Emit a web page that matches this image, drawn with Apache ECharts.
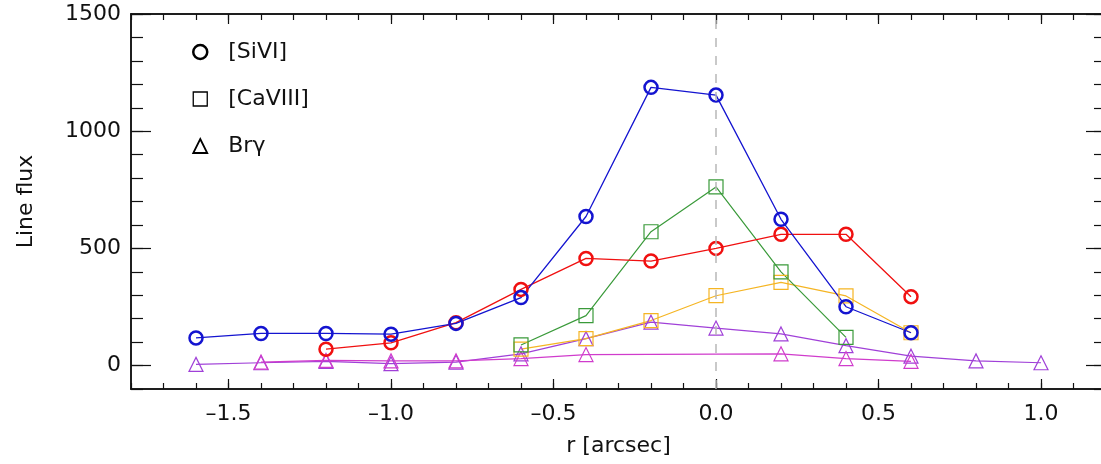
<!DOCTYPE html>
<html><head><meta charset="utf-8">
<script src="https://cdn.jsdelivr.net/npm/echarts@6/dist/echarts.min.js"></script>
<style>html,body{margin:0;padding:0;background:#fff;overflow:hidden;width:1101px;height:464px}#c{width:1110px;height:464px}</style>
</head><body><div id="c"></div>
<script>
// radius positions (arcsec)
const rValues = [-1.6, -1.4, -1.2, -1.0, -0.8, -0.6, -0.4, -0.2, 0.0, 0.2, 0.4, 0.6, 0.8, 1.0];
// [SiVI] (circles)
const siviBlue = [118, 137, 137, 134, 180, 290, 636, 1187, 1154, 624, 251, 140, null, null];
const siviRed  = [null, null, 70, 97, 183, 325, 457, 446, 500, 560, 560, 294, null, null];
// [CaVIII] (squares)
const caviiiGreen  = [null, null, null, null, null, 88, 213, 571, 762, 400, 120, null, null, null];
const caviiiOrange = [null, null, null, null, null, 70, 115, 192, 298, 355, 297, 140, null, null];
// Br gamma (triangles)
const brgViolet  = [5, 12, 18, 8, 15, 50, 115, 185, 160, 135, 85, 40, 20, 12];
const brgMagenta = [null, 15, 22, 20, 20, 30, 47, null, null, 50, 30, 18, null, null];
// tick labels
const xTicks = [-1.5, -1.0, -0.5, 0.0, 0.5, 1.0];
const yTicks = [0, 500, 1000, 1500];
const legendNames = ['[SiVI]', '[CaVIII]', 'Br\u03b3'];

const FONT = 'DejaVu Sans';
const INK = '#111';
function pairs(vals) {
  const out = [];
  vals.forEach((v, i) => { if (v !== null) out.push([rValues[i], v]); });
  return out;
}
function fmtX(v) { return (v < -1e-9 ? '\u2013' : '') + Math.abs(v).toFixed(1); }
function fmtY(v) { return String(Math.round(v)); }

const chart = echarts.init(document.getElementById('c'));

function xAx(pos, major, withLabel) {
  const a = {
    type: 'value', position: pos, min: -1.8, max: 1.2,
    axisLine: { show: true, onZero: false, lineStyle: { color: INK, width: 1.5 } },
    splitLine: { show: false },
    axisTick: { show: true, inside: true, length: major ? 10 : 6, lineStyle: { color: INK, width: 1.2 } },
    axisLabel: { show: false }
  };
  if (major) {
    a.axisTick.customValues = xTicks;
    a.axisLabel = { show: withLabel, customValues: xTicks, formatter: fmtX, fontFamily: FONT, fontSize: 22, color: INK, margin: 14 };
  } else {
    a.interval = 0.1;
  }
  if (withLabel) {
    a.name = 'r [arcsec]'; a.nameLocation = 'middle'; a.nameGap = 46;
    a.nameTextStyle = { fontFamily: FONT, fontSize: 22, color: INK };
  }
  return a;
}
function yAx(pos, major, withLabel) {
  const a = {
    type: 'value', position: pos, min: -100, max: 1500,
    axisLine: { show: true, onZero: false, lineStyle: { color: INK, width: 1.5 } },
    splitLine: { show: false },
    axisTick: { show: true, inside: true, length: major ? 20 : 12, lineStyle: { color: INK, width: 1.2 } },
    axisLabel: { show: false }
  };
  if (major) {
    a.axisTick.customValues = yTicks;
    a.axisLabel = { show: withLabel, customValues: yTicks, formatter: fmtY, fontFamily: FONT, fontSize: 22, color: INK, margin: 10 };
  } else {
    a.interval = 100;
  }
  if (withLabel) {
    a.name = 'Line flux'; a.nameLocation = 'middle'; a.nameGap = 94;
    a.nameTextStyle = { fontFamily: FONT, fontSize: 22, color: INK };
  }
  return a;
}

function ser(name, vals, color, symbol, size, bw, lw, extra) {
  return Object.assign({
    name: name, type: 'line', xAxisIndex: 1, yAxisIndex: 1,
    data: pairs(vals), connectNulls: true,
    symbol: symbol, symbolSize: size, showAllSymbol: true,
    lineStyle: { color: color, width: lw },
    itemStyle: { color: 'rgba(0,0,0,0)', borderColor: color, borderWidth: bw },
    emphasis: { disabled: true }, animation: false, z: 3
  }, extra || {});
}

const option = {
  animation: false,
  grid: { left: 131, top: 14, right: 4, bottom: 75, containLabel: false },
  xAxis: [xAx('bottom', false, false), xAx('bottom', true, true), xAx('top', false, false), xAx('top', true, false)],
  yAxis: [yAx('left', false, false), yAx('left', true, true), yAx('right', false, false), yAx('right', true, false)],
  legend: {
    orient: 'vertical', left: 187, top: 36, itemWidth: 14, itemHeight: 14, itemGap: 25,
    selectedMode: false,
    textStyle: { fontFamily: FONT, fontSize: 22, color: INK, padding: [0, 0, 0, 16] },
    data: [
      { name: legendNames[0], icon: 'circle', itemStyle: { color: 'rgba(0,0,0,0)', borderColor: '#000', borderWidth: 2.5 } },
      { name: legendNames[1], icon: 'rect', itemStyle: { color: 'rgba(0,0,0,0)', borderColor: '#000', borderWidth: 1.3 } },
      { name: legendNames[2], icon: 'triangle', itemStyle: { color: 'rgba(0,0,0,0)', borderColor: '#000', borderWidth: 1.8 } }
    ]
  },
  series: [
    { name: legendNames[0], type: 'line', data: [], symbol: 'circle', itemStyle: { color: '#000' } },
    { name: legendNames[1], type: 'line', data: [], symbol: 'rect', itemStyle: { color: '#000' } },
    { name: legendNames[2], type: 'line', data: [], symbol: 'triangle', itemStyle: { color: '#000' } },
    ser('brg-violet', brgViolet, '#a040d8', 'triangle', 14, 1.2, 1.2, {
      markLine: { silent: true, symbol: 'none', label: { show: false },
        lineStyle: { color: '#b8b8b8', type: [9, 9], width: 1.5 }, data: [{ xAxis: 0 }] }
    }),
    ser('brg-magenta', brgMagenta, '#d03ccc', 'triangle', 14, 1.2, 1.2),
    ser('caviii-orange', caviiiOrange, '#f5b523', 'rect', 14, 1.2, 1.2),
    ser('caviii-green', caviiiGreen, '#3a9a3a', 'rect', 14, 1.2, 1.2),
    ser('sivi-red', siviRed, '#f01010', 'circle', 13, 2.5, 1.3),
    ser('sivi-blue', siviBlue, '#1414d0', 'circle', 13, 2.5, 1.3)
  ]
};
chart.setOption(option);
</script>
</body></html>
